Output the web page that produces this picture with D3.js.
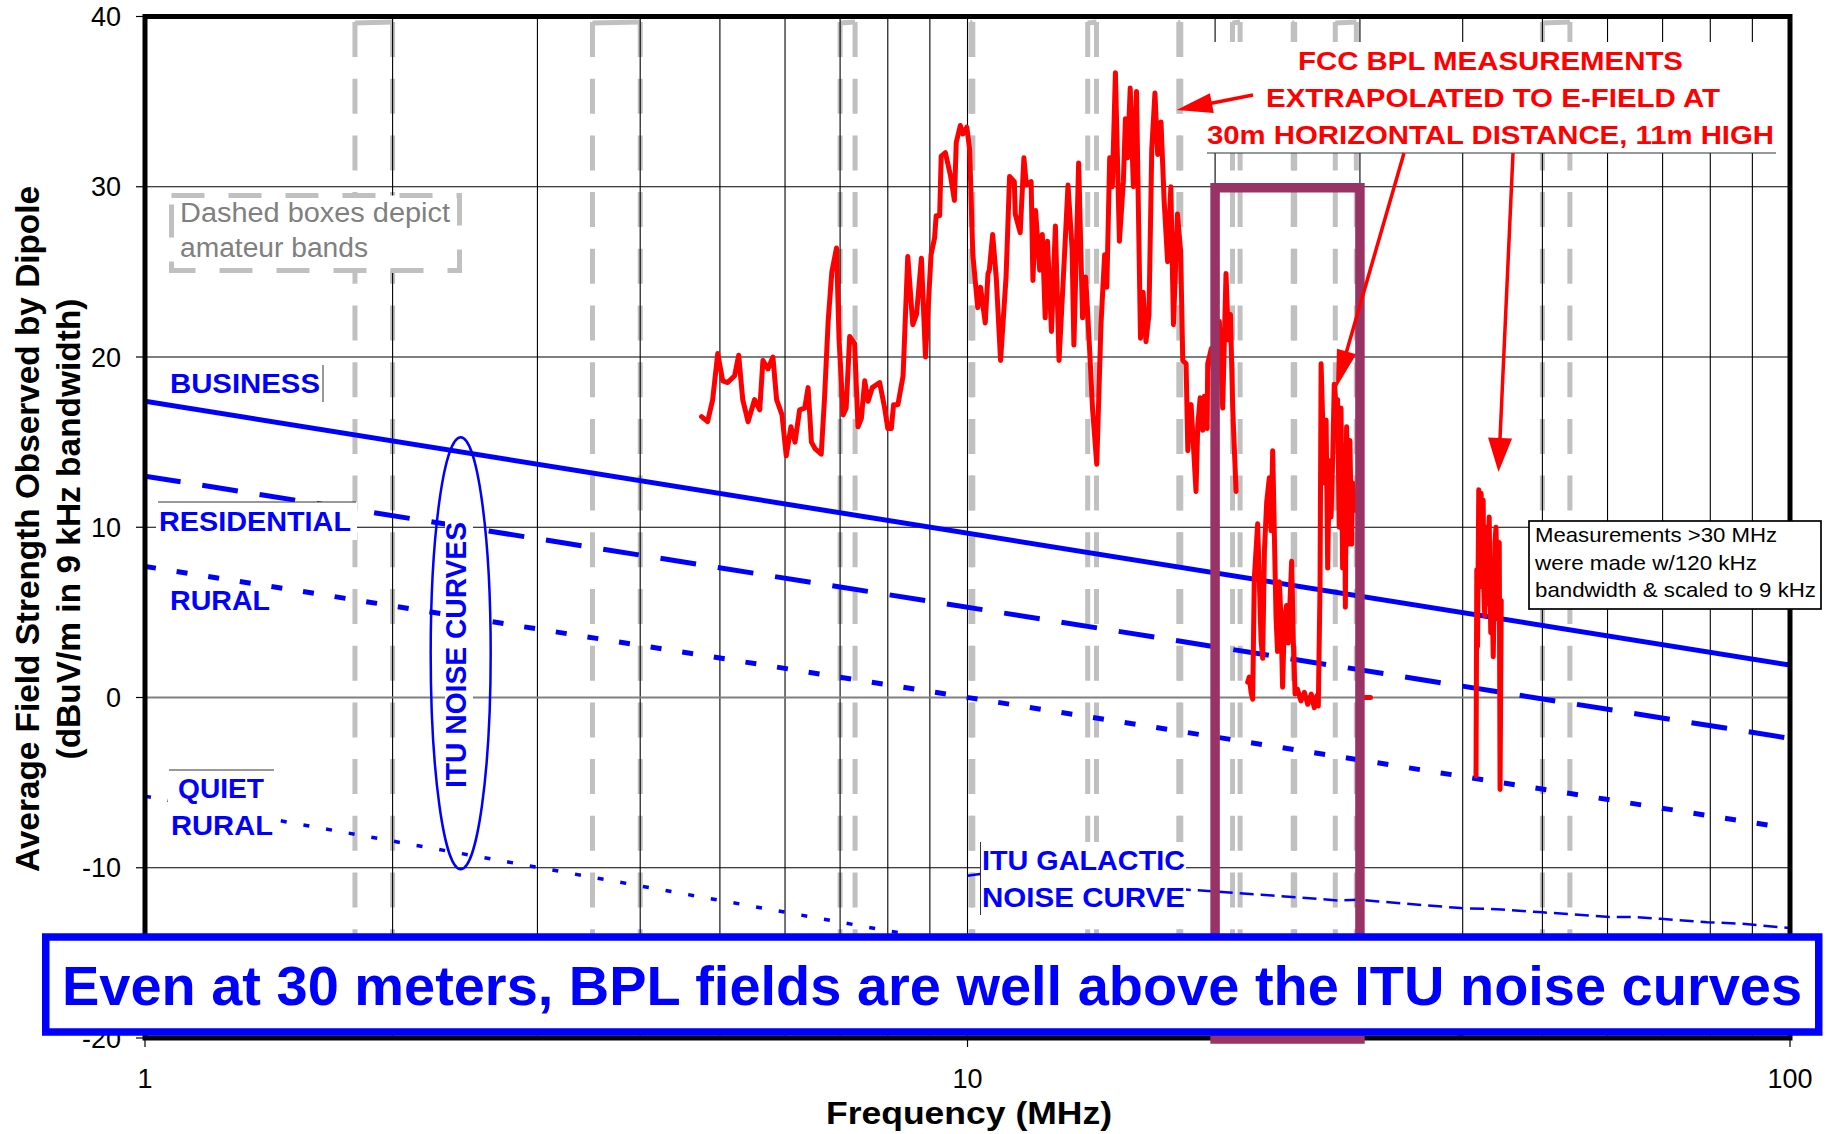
<!DOCTYPE html>
<html><head><meta charset="utf-8">
<script src="https://cdn.jsdelivr.net/npm/d3@7"></script>
<style>body{margin:0;background:#fff}text{font-family:"Liberation Sans",Arial,sans-serif}</style>
</head><body><svg id="c" width="1829" height="1134"></svg>
<script>
// ---------------- DATA ----------------
const xTickValues = [1, 10, 100];
const xTickLabels = ["1", "10", "100"];
const yTickValues = [-20, -10, 0, 10, 20, 30, 40];
const yTickLabels = ["-20", "-10", "0", "10", "20", "30", "40"];
const amateurBands = [[1.8,2.0],[3.5,4.0],[7.0,7.3],[10.1,10.15],[14.0,14.35],[18.068,18.168],[21.0,21.45],[24.89,24.99],[28.0,29.7],[50,54]];
const noiseFreq = [1, 100];
const businessNoise = [17.4, 1.9];
const residentialNoise = [13.0, -2.4];
const ruralNoise = [7.7, -7.7];
const quietRuralNoise = [-5.8, -23.3];
const galacticFreq = [10.0, 10.35, 18.55, 19.97, 21.32, 22.77, 28.18, 30.1, 31.6, 39.8, 44.64, 50.06, 60.99, 65.1, 69.57, 79.3, 87.5, 99.8];
const galacticLevel = [-10.47, -10.37, -11.29, -11.39, -11.49, -11.58, -11.92, -11.88, -11.98, -12.37, -12.45, -12.62, -12.9, -12.9, -13.0, -13.2, -13.29, -13.54];
const bplFreq = [4.75,4.83,4.90,4.97,5.04,5.11,5.21,5.27,5.33,5.41,5.51,5.59,5.64,5.72,5.80,5.86,5.95,6.02,6.10,6.17,6.25,6.34,6.40,6.46,6.53,6.64,6.70,6.77,6.84,6.93,6.98,7.06,7.12,7.19,7.29,7.36,7.43,7.50,7.57,7.66,7.82,7.93,8.00,8.08,8.13,8.23,8.35,8.46,8.58,8.67,8.79,8.89,9.03,9.12,9.16,9.25,9.29,9.40,9.54,9.64,9.69,9.80,9.87,9.98,10.06,10.15,10.29,10.37,10.51,10.59,10.63,10.73,10.84,10.97,11.14,11.25,11.40,11.43,11.59,11.71,11.79,11.95,12.01,12.10,12.24,12.33,12.43,12.51,12.65,12.79,12.92,13.06,13.25,13.40,13.47,13.65,13.80,13.92,14.08,14.19,14.36,14.53,14.68,14.77,14.89,15.00,15.13,15.30,15.47,15.56,15.65,15.77,15.91,16.05,16.23,16.35,16.48,16.62,16.75,16.90,17.03,17.19,17.34,17.51,17.67,17.80,18.00,18.16,18.27,18.44,18.53,18.61,18.70,18.96,19.05,19.18,19.32,19.41,19.56,19.59,19.79,20.01,20.24,20.43,20.62,20.76,20.88,21.01,21.21,null,
21.91,22.01,22.12,22.22,22.32,22.53,22.75,22.85,22.96,23.11,23.28,23.39,23.50,23.60,23.72,23.82,23.94,24.05,24.16,24.28,24.43,24.55,24.78,24.90,25.02,25.18,25.44,25.68,25.92,26.18,26.40,26.59,26.70,26.83,26.91,27.03,27.16,27.29,27.41,27.54,27.67,27.80,27.92,28.05,28.18,28.31,28.45,28.58,28.72,28.80,28.90,29.04,29.17,29.31,29.39,29.57,null,
29.95,30.90,null,
41.52,41.61,41.70,41.84,41.99,42.12,42.24,42.36,42.45,42.55,42.65,42.75,42.85,42.94,43.08,43.18,43.27,43.40,43.57,43.70,43.77,43.91,44.03,44.16,44.31,44.41,44.56];
const bplLevel = [16.5,16.2,17.5,20.2,18.6,18.5,18.9,20.1,17.5,16.2,17.5,16.9,19.8,19.3,20.0,17.5,16.6,14.2,15.9,15.0,16.9,17.0,18.2,15.0,14.6,14.3,17.5,22.1,25.0,26.4,21.0,16.6,17.0,21.2,20.8,15.9,16.4,18.6,17.4,18.2,18.5,17.0,15.8,15.8,17.2,17.2,18.9,25.9,21.9,22.5,25.8,20.0,26.0,27.0,28.3,28.3,31.8,32.0,30.6,29.2,32.6,33.6,33.1,33.5,32.2,26.0,22.9,24.1,22.0,24.9,25.1,27.2,24.6,19.8,24.7,30.6,30.3,28.4,27.3,31.7,30.1,30.3,24.5,28.6,25.1,27.2,22.3,26.8,21.5,27.7,19.8,24.1,30.1,26.4,20.7,31.4,22.3,24.7,20.3,17.0,13.7,21.9,26.0,24.1,31.7,30.0,36.7,26.8,30.3,34.0,31.7,35.8,30.0,35.6,21.1,23.8,20.9,22.5,32.2,35.5,31.9,33.8,29.2,25.6,30.0,21.9,28.4,26.2,19.8,19.6,14.5,16.8,17.2,12.1,15.9,17.6,15.7,17.7,15.8,19.6,20.5,18.0,22.1,17.0,24.9,21.0,22.5,17.0,12.1,null,
0.9,1.2,0.3,-0.1,7.0,10.2,3.3,2.3,8.6,11.5,12.9,9.8,14.5,10.0,4.7,2.7,6.8,4.7,0.6,4.5,5.4,3.2,8.0,3.2,0.2,0.5,-0.2,0.3,-0.4,0.2,-0.6,0.1,-0.5,6.6,19.6,16.3,12.6,16.3,7.6,13.9,10.6,14.1,18.4,17.2,17.5,10.0,17.0,7.6,14.8,5.3,15.9,9.0,15.1,9.0,12.6,11.0,null,
0.0,0.0,null,
-4.6,7.5,3.0,12.2,6.5,12.0,8.0,11.6,6.0,4.8,9.0,10.0,5.5,7.7,10.6,6.5,3.8,7.0,2.4,6.0,9.1,10.0,7.0,4.6,9.1,-5.4,5.7];
const highlightBand = [20, 30];
const highlightLevels = [30, -20];

// ---------------- CHART ----------------
const W = 1829, H = 1134;
const X0 = 145, X1 = 1790, Y0 = 16.5, Y1 = 1038;
const svg = d3.select("#c");
const x = d3.scaleLog().domain([1, 100]).range([X0, X1]);
const y = d3.scaleLinear().domain([-20, 40]).range([Y1, Y0]);
const BLUE = "#0000ff", RED = "#ff0000", PURPLE = "#993366", GREY = "#c0c0c0";

svg.append("rect").attr("width", W).attr("height", H).attr("fill", "#fff");
svg.append("defs").append("clipPath").attr("id", "plot")
  .append("rect").attr("x", X0).attr("y", Y0).attr("width", X1 - X0).attr("height", Y1 - Y0);

// amateur bands (dashed grey boxes)
const bandG = svg.append("g").attr("clip-path", "url(#plot)");
const bandTop = 22, bandBottom = 1030;
amateurBands.forEach(([a, b]) => {
  const xa = x(a), xb = x(b);
  [xa, xb].forEach(xx => bandG.append("line").attr("x1", xx).attr("x2", xx)
    .attr("y1", bandTop).attr("y2", bandBottom)
    .attr("stroke", GREY).attr("stroke-width", 5).attr("stroke-dasharray", "35,21.7"));
  bandG.append("line").attr("x1", xa).attr("x2", xb).attr("y1", bandTop + 1).attr("y2", bandTop)
    .attr("stroke", GREY).attr("stroke-width", 5);
});

// gridlines
const gridG = svg.append("g");
x.ticks().filter(t => t > 1 && t < 100).forEach(t => {
  gridG.append("line").attr("x1", x(t)).attr("x2", x(t)).attr("y1", Y0).attr("y2", Y1)
    .attr("stroke", "#000").attr("stroke-width", 1.1);
});
yTickValues.filter(v => v > -20 && v < 40).forEach(v => {
  gridG.append("line").attr("x1", X0).attr("x2", X1).attr("y1", y(v)).attr("y2", y(v))
    .attr("stroke", v === 0 ? "#808080" : "#000").attr("stroke-width", v === 0 ? 2 : 1.1);
});

// noise curves
const curveG = svg.append("g").attr("clip-path", "url(#plot)");
const nLine = d3.line().x(d => x(d[0])).y(d => y(d[1]));
function noise(levels, w, dash) {
  curveG.append("path").attr("d", nLine(noiseFreq.map((f, i) => [f, levels[i]])))
    .attr("fill", "none").attr("stroke", BLUE).attr("stroke-width", w)
    .attr("stroke-dasharray", dash);
}
noise(businessNoise, 5, null);
noise(residentialNoise, 5, "36,22");
noise(ruralNoise, 5, "11,21");
noise(quietRuralNoise, 3.5, "6,17");
curveG.append("path").attr("d", nLine(galacticFreq.map((f, i) => [f, galacticLevel[i]])))
  .attr("fill", "none").attr("stroke", BLUE).attr("stroke-width", 2.5).attr("stroke-dasharray", "14,7");

// BPL measurements
const bplLine = d3.line().defined(d => d[0] !== null).x(d => x(d[0])).y(d => y(d[1]));
svg.append("path").attr("clip-path", "url(#plot)")
  .attr("d", bplLine(bplFreq.map((f, i) => [f, bplLevel[i]])))
  .attr("fill", "none").attr("stroke", RED).attr("stroke-width", 5)
  .attr("stroke-linejoin", "round").attr("stroke-linecap", "round");

// label helpers
function txt(g, s, xx, yy, size, color, weight, len, anchor) {
  const t = g.append("text").attr("x", xx).attr("y", yy).text(s)
    .attr("font-size", size).attr("fill", color).attr("font-weight", weight || "normal")
    .attr("text-anchor", anchor || "start");
  if (len) t.attr("textLength", len).attr("lengthAdjust", "spacingAndGlyphs");
  return t;
}
function whiteRect(g, xx, yy, w, h) {
  g.append("rect").attr("x", xx).attr("y", yy).attr("width", w).attr("height", h).attr("fill", "#fff");
}
function thin(g, x1, y1, x2, y2) {
  g.append("line").attr("x1", x1).attr("y1", y1).attr("x2", x2).attr("y2", y2)
    .attr("stroke", "#333").attr("stroke-width", 1);
}
const lab = svg.append("g");
// BUSINESS
txt(lab, "BUSINESS", 170, 393, 28, BLUE, "bold", 150);
thin(lab, 323, 365, 323, 402);
// RESIDENTIAL
whiteRect(lab, 156, 502, 201, 38);
txt(lab, "RESIDENTIAL", 159, 530.5, 28, BLUE, "bold", 192);
thin(lab, 158, 502, 356, 502);
// RURAL
whiteRect(lab, 167, 591, 106, 24);
txt(lab, "RURAL", 170, 610, 28, BLUE, "bold", 100);
// QUIET RURAL
whiteRect(lab, 168, 770, 108, 70);
txt(lab, "QUIET", 178, 798, 28, BLUE, "bold", 86);
txt(lab, "RURAL", 171, 835, 28, BLUE, "bold", 102);
thin(lab, 169, 770, 274, 770);
// ITU GALACTIC
whiteRect(lab, 980, 842, 206, 72);
txt(lab, "ITU GALACTIC", 982, 870, 28, BLUE, "bold", 203);
txt(lab, "NOISE CURVE", 982, 906.5, 28, BLUE, "bold", 203);
thin(lab, 980.5, 842, 980.5, 915);
// ITU NOISE CURVES (ellipse)
whiteRect(lab, 445, 518, 28, 274);
lab.append("text").attr("transform", "translate(466,655) rotate(-90)")
  .attr("text-anchor", "middle").attr("font-size", 29).attr("font-weight", "bold")
  .attr("fill", BLUE).attr("textLength", 266).attr("lengthAdjust", "spacingAndGlyphs")
  .text("ITU NOISE CURVES");
lab.append("ellipse").attr("cx", x(2.42)).attr("cy", y(2.6)).attr("rx", 30).attr("ry", 216)
  .attr("fill", "none").attr("stroke", BLUE).attr("stroke-width", 2.5);

// Dashed boxes note
lab.append("rect").attr("x", 171.5).attr("y", 195.5).attr("width", 288).attr("height", 75)
  .attr("fill", "#fff").attr("stroke", GREY).attr("stroke-width", 5).attr("stroke-dasharray", "33,24");
txt(lab, "Dashed boxes depict", 180, 222, 27, "#808080", "normal", 270);
txt(lab, "amateur bands", 180, 257, 27, "#808080", "normal", 188);

// plot frame
svg.append("rect").attr("x", X0).attr("y", Y0).attr("width", X1 - X0).attr("height", Y1 - Y0)
  .attr("fill", "none").attr("stroke", "#000").attr("stroke-width", 5);

// purple highlight
svg.append("rect").attr("x", x(highlightBand[0])).attr("y", y(highlightLevels[0]) + 1)
  .attr("width", x(highlightBand[1]) - x(highlightBand[0]))
  .attr("height", y(highlightLevels[1]) - y(highlightLevels[0]))
  .attr("fill", "none").attr("stroke", PURPLE).attr("stroke-width", 9.5);

// axes ticks and labels
const axG = svg.append("g");
yTickValues.forEach((v, i) => {
  axG.append("line").attr("x1", X0 - 9).attr("x2", X0).attr("y1", y(v)).attr("y2", y(v))
    .attr("stroke", "#000").attr("stroke-width", 1.2);
  txt(axG, yTickLabels[i], 121, y(v) + 9.7, 27, "#000", "normal", null, "end");
});
xTickValues.forEach((v, i) => {
  axG.append("line").attr("x1", x(v)).attr("x2", x(v)).attr("y1", Y1).attr("y2", Y1 + 9)
    .attr("stroke", "#000").attr("stroke-width", 1.2);
  txt(axG, xTickLabels[i], x(v), 1088, 27, "#000", "normal", null, "middle");
});
txt(axG, "Frequency (MHz)", 969, 1124, 32, "#000", "bold", 286, "middle");
axG.append("text").attr("transform", "translate(39,529) rotate(-90)").attr("text-anchor", "middle")
  .attr("font-size", 33).attr("font-weight", "bold").attr("textLength", 686)
  .attr("lengthAdjust", "spacingAndGlyphs").text("Average Field Strength Observed by Dipole");
axG.append("text").attr("transform", "translate(80,529) rotate(-90)").attr("text-anchor", "middle")
  .attr("font-size", 33).attr("font-weight", "bold").attr("textLength", 461)
  .attr("lengthAdjust", "spacingAndGlyphs").text("(dBuV/m in 9 kHz bandwidth)");

// FCC annotation
const ann = svg.append("g");
whiteRect(ann, 1205, 42, 572, 111);
thin(ann, 1207, 153, 1776, 153);
txt(ann, "FCC BPL MEASUREMENTS", 1298, 70, 26, RED, "bold", 385);
txt(ann, "EXTRAPOLATED TO E-FIELD AT", 1266, 107, 26, RED, "bold", 454);
txt(ann, "30m HORIZONTAL DISTANCE, 11m HIGH", 1207, 143.5, 26, RED, "bold", 567);
function arrow(x1, y1, x2, y2, len, hw) {
  const dx = x2 - x1, dy = y2 - y1, L = Math.hypot(dx, dy), ux = dx / L, uy = dy / L;
  const bx = x2 - ux * len, by = y2 - uy * len;
  ann.append("line").attr("x1", x1).attr("y1", y1).attr("x2", bx + ux * 2).attr("y2", by + uy * 2)
    .attr("stroke", RED).attr("stroke-width", 3.5);
  ann.append("path").attr("d", `M${x2},${y2}L${bx - uy * hw},${by + ux * hw}L${bx + uy * hw},${by - ux * hw}Z`)
    .attr("fill", RED);
}
arrow(1253, 95, 1176.5, 110, 36, 10);
arrow(1404, 153, 1336, 388, 38, 10);
arrow(1513, 153, 1498.5, 472, 34, 12);

// measurement note
const note = svg.append("g");
note.append("rect").attr("x", 1529).attr("y", 521).attr("width", 292).attr("height", 88)
  .attr("fill", "#fff").attr("stroke", "#000").attr("stroke-width", 1.7);
txt(note, "Measurements >30 MHz", 1535, 542, 21, "#000", "normal", 242);
txt(note, "were made w/120 kHz", 1535, 570, 21, "#000", "normal", 222);
txt(note, "bandwidth & scaled to 9 kHz", 1535, 597, 21, "#000", "normal", 281);

// bottom banner
const ban = svg.append("g");
ban.append("rect").attr("x", 45.75).attr("y", 937).attr("width", 1773).attr("height", 95)
  .attr("fill", "#fff").attr("stroke", BLUE).attr("stroke-width", 7.5);
txt(ban, "Even at 30 meters, BPL fields are well above the ITU noise curves", 62, 1005, 56, BLUE, "bold", 1740);
</script></body></html>
